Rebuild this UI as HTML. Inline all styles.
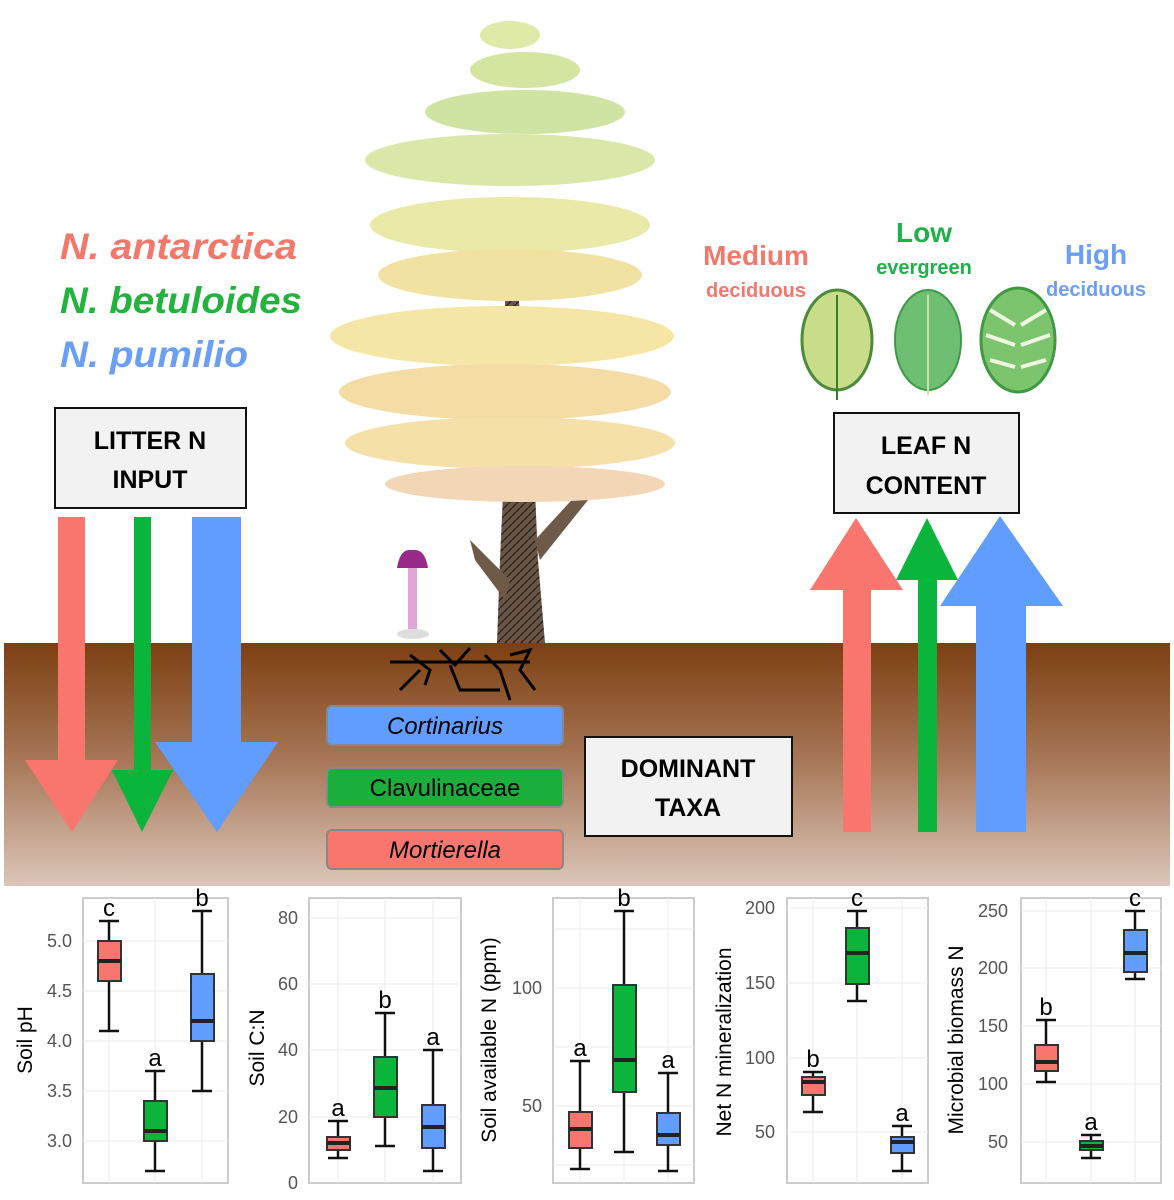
<!DOCTYPE html>
<html><head><meta charset="utf-8"><style>
html,body{margin:0;padding:0;background:#fff}
svg{display:block}
text{font-family:"Liberation Sans",sans-serif}
</style></head><body>
<svg width="1174" height="1200" viewBox="0 0 1174 1200" xmlns="http://www.w3.org/2000/svg">
<defs>
<linearGradient id="soil" x1="0" y1="0" x2="0" y2="1">
<stop offset="0" stop-color="#7d3f12"/><stop offset="0.5" stop-color="#a8795a"/><stop offset="1" stop-color="#dcc6b8"/>
</linearGradient>
<pattern id="bark" width="8" height="8" patternUnits="userSpaceOnUse"><rect width="8" height="8" fill="#6a5646"/><path d="M0,4 L4,0 M4,8 L8,4" stroke="#2e2620" stroke-width="1.5"/></pattern>
</defs>
<rect x="0" y="0" width="1174" height="1200" fill="#fff"/>
<rect x="4" y="643" width="1166" height="243" fill="url(#soil)"/>

<!-- Tree trunk -->
<polygon points="497,643 545,643 538,560 532,420 522,330 510,220 502,220 506,330 505,450 500,560" fill="url(#bark)"/>
<polygon points="505,600 475,560 470,540 510,580" fill="#6d5a48"/>
<polygon points="535,540 590,480 600,485 540,560" fill="#6d5a48"/>
<!-- foliage tiers -->
<g>
<ellipse cx="510" cy="35" rx="30" ry="14" fill="#dfe9a8"/>
<ellipse cx="525" cy="70" rx="55" ry="18" fill="#d3e5a0"/>
<ellipse cx="525" cy="112" rx="100" ry="22" fill="#cfe4a2"/>
<ellipse cx="510" cy="160" rx="145" ry="26" fill="#d9e8a8"/>
<ellipse cx="510" cy="225" rx="140" ry="28" fill="#e9eaa8"/>
<ellipse cx="510" cy="275" rx="132" ry="26" fill="#f2e2a2"/>
<ellipse cx="502" cy="336" rx="172" ry="30" fill="#f6e6a6"/>
<ellipse cx="505" cy="392" rx="166" ry="28" fill="#f4dca6"/>
<ellipse cx="510" cy="443" rx="165" ry="26" fill="#f5e0aa"/>
<ellipse cx="525" cy="484" rx="140" ry="18" fill="#f2d6b6"/>
</g>
<!-- mushroom -->
<rect x="408" y="565" width="9" height="68" fill="#e2a6d6"/>
<path d="M397,568 Q400,548 412,550 Q425,548 428,568 Z" fill="#9a2a8a"/>
<ellipse cx="413" cy="634" rx="16" ry="5" fill="#ddd"/>
<!-- roots -->
<g stroke="#000" stroke-width="3" fill="none">
<path d="M390,662 L530,662"/><path d="M410,655 L430,670 L425,685"/><path d="M440,650 L455,665 L470,648"/>
<path d="M450,665 L460,690 L500,690"/><path d="M485,655 L500,670 L510,700"/><path d="M510,655 L530,650 L520,670 L535,690"/>
<path d="M420,670 L400,690"/>
</g>

<!-- species names -->
<text x="60" y="259" font-size="37" font-weight="bold" font-style="italic" fill="#f4776c" textLength="237" lengthAdjust="spacingAndGlyphs">N. antarctica</text>
<text x="60" y="313" font-size="37" font-weight="bold" font-style="italic" fill="#22b33c" textLength="242" lengthAdjust="spacingAndGlyphs">N. betuloides</text>
<text x="60" y="367" font-size="37" font-weight="bold" font-style="italic" fill="#6b9ef5" textLength="188" lengthAdjust="spacingAndGlyphs">N. pumilio</text>

<!-- litter box -->
<rect x="55" y="408" width="191" height="100" fill="#f2f2f2" stroke="#111" stroke-width="2"/>
<text x="150" y="449" font-size="25" font-weight="bold" text-anchor="middle">LITTER N</text>
<text x="150" y="488" font-size="25" font-weight="bold" text-anchor="middle">INPUT</text>

<!-- down arrows -->
<polygon points="192,517 241,517 241,742 278,742 217,832 155,742 192,742" fill="#619cff"/>
<polygon points="58,517 85,517 85,760 118,760 72,832 25,760 58,760" fill="#f8766d"/>
<polygon points="134,517 151,517 151,770 173,770 142,832 112,770 134,770" fill="#0bb43a"/>

<!-- up arrows -->
<polygon points="843,832 871,832 871,590 903,590 856,518 810,590 843,590" fill="#f8766d"/>
<polygon points="976,832 1026,832 1026,606 1063,606 1000,516 940,606 976,606" fill="#619cff"/>
<polygon points="918,832 937,832 937,580 958,580 927,518 896,580 918,580" fill="#0bb43a"/>

<!-- leaf labels -->
<text x="756" y="265" font-size="28" font-weight="bold" text-anchor="middle" fill="#f4776c">Medium</text>
<text x="756" y="297" font-size="20" font-weight="bold" text-anchor="middle" fill="#f4776c">deciduous</text>
<text x="924" y="242" font-size="28" font-weight="bold" text-anchor="middle" fill="#1db14a">Low</text>
<text x="924" y="274" font-size="20" font-weight="bold" text-anchor="middle" fill="#1db14a">evergreen</text>
<text x="1096" y="264" font-size="28" font-weight="bold" text-anchor="middle" fill="#6b9ef5">High</text>
<text x="1096" y="296" font-size="20" font-weight="bold" text-anchor="middle" fill="#6b9ef5">deciduous</text>
<!-- leaves -->
<ellipse cx="837" cy="340" rx="35" ry="50" fill="#c9dc8a" stroke="#4d8a3a" stroke-width="3"/>
<line x1="837" y1="295" x2="837" y2="400" stroke="#3b7a2e" stroke-width="2"/>
<ellipse cx="928" cy="340" rx="33" ry="50" fill="#6fbf72" stroke="#3e9a4a" stroke-width="2"/>
<line x1="928" y1="295" x2="928" y2="395" stroke="#c9e4a0" stroke-width="2"/>
<ellipse cx="1018" cy="340" rx="37" ry="52" fill="#7cc46e" stroke="#3e9a3e" stroke-width="3"/>
<g stroke="#eef6e0" stroke-width="4"><line x1="990" y1="310" x2="1015" y2="325"/><line x1="986" y1="335" x2="1015" y2="345"/><line x1="990" y1="360" x2="1015" y2="367"/><line x1="1046" y1="310" x2="1021" y2="325"/><line x1="1050" y1="335" x2="1021" y2="345"/><line x1="1046" y1="360" x2="1021" y2="367"/></g>

<!-- leaf box -->
<rect x="834" y="413" width="185" height="100" fill="#f2f2f2" stroke="#111" stroke-width="2"/>
<text x="926" y="454" font-size="25" font-weight="bold" text-anchor="middle">LEAF N</text>
<text x="926" y="494" font-size="25" font-weight="bold" text-anchor="middle">CONTENT</text>

<!-- taxa -->
<rect x="327" y="706" width="236" height="39" rx="5" fill="#619cff" stroke="#888" stroke-width="2"/>
<text x="445" y="734" font-size="24" font-style="italic" text-anchor="middle">Cortinarius</text>
<rect x="327" y="768" width="236" height="39" rx="5" fill="#1cae3c" stroke="#888" stroke-width="2"/>
<text x="445" y="796" font-size="24" text-anchor="middle">Clavulinaceae</text>
<rect x="327" y="830" width="236" height="39" rx="5" fill="#f8766d" stroke="#888" stroke-width="2"/>
<text x="445" y="858" font-size="24" font-style="italic" text-anchor="middle">Mortierella</text>
<rect x="585" y="737" width="207" height="99" fill="#f2f2f2" stroke="#111" stroke-width="2"/>
<text x="688" y="777" font-size="25" font-weight="bold" text-anchor="middle">DOMINANT</text>
<text x="688" y="816" font-size="25" font-weight="bold" text-anchor="middle">TAXA</text>

<!-- PLOTS -->
<rect x="83" y="898" width="145" height="285" fill="#fff" stroke="#ccc" stroke-width="2"/>
<g stroke="#ebebeb" stroke-width="1"><line x1="83" y1="941" x2="228" y2="941"/><line x1="83" y1="991" x2="228" y2="991"/><line x1="83" y1="1041" x2="228" y2="1041"/><line x1="83" y1="1091" x2="228" y2="1091"/><line x1="83" y1="1141" x2="228" y2="1141"/><line x1="109" y1="898" x2="109" y2="1183"/><line x1="155" y1="898" x2="155" y2="1183"/><line x1="202" y1="898" x2="202" y2="1183"/></g>
<g font-size="18" fill="#555" text-anchor="end">
<text x="72" y="947">5.0</text><text x="72" y="997">4.5</text><text x="72" y="1047">4.0</text><text x="72" y="1097">3.5</text><text x="72" y="1147">3.0</text>
</g>
<text transform="translate(32,1040) rotate(-90)" font-size="21" text-anchor="middle">Soil pH</text>

<rect x="309" y="898" width="152" height="285" fill="#fff" stroke="#ccc" stroke-width="2"/>
<g stroke="#ebebeb" stroke-width="1"><line x1="309" y1="918" x2="461" y2="918"/><line x1="309" y1="984" x2="461" y2="984"/><line x1="309" y1="1050" x2="461" y2="1050"/><line x1="309" y1="1117" x2="461" y2="1117"/><line x1="338" y1="898" x2="338" y2="1183"/><line x1="385" y1="898" x2="385" y2="1183"/><line x1="433" y1="898" x2="433" y2="1183"/></g>
<g font-size="18" fill="#555" text-anchor="end">
<text x="298" y="924">80</text><text x="298" y="990">60</text><text x="298" y="1056">40</text><text x="298" y="1123">20</text><text x="298" y="1189">0</text>
</g>
<text transform="translate(264,1048) rotate(-90)" font-size="21" text-anchor="middle">Soil C:N</text>

<rect x="553" y="898" width="141" height="285" fill="#fff" stroke="#ccc" stroke-width="2"/>
<g stroke="#ebebeb" stroke-width="1"><line x1="553" y1="988" x2="694" y2="988"/><line x1="553" y1="1106" x2="694" y2="1106"/><line x1="553" y1="929" x2="694" y2="929"/><line x1="553" y1="1047" x2="694" y2="1047"/><line x1="553" y1="1165" x2="694" y2="1165"/><line x1="580" y1="898" x2="580" y2="1183"/><line x1="624" y1="898" x2="624" y2="1183"/><line x1="668" y1="898" x2="668" y2="1183"/></g>
<g font-size="18" fill="#555" text-anchor="end"><text x="542" y="994">100</text><text x="542" y="1112">50</text></g>
<text transform="translate(496,1040) rotate(-90)" font-size="21" text-anchor="middle">Soil available N (ppm)</text>

<rect x="787" y="898" width="141" height="285" fill="#fff" stroke="#ccc" stroke-width="2"/>
<g stroke="#ebebeb" stroke-width="1"><line x1="787" y1="908" x2="928" y2="908"/><line x1="787" y1="983" x2="928" y2="983"/><line x1="787" y1="1058" x2="928" y2="1058"/><line x1="787" y1="1132" x2="928" y2="1132"/><line x1="813" y1="898" x2="813" y2="1183"/><line x1="857" y1="898" x2="857" y2="1183"/><line x1="902" y1="898" x2="902" y2="1183"/></g>
<g font-size="18" fill="#555" text-anchor="end"><text x="775" y="914">200</text><text x="775" y="989">150</text><text x="775" y="1064">100</text><text x="775" y="1138">50</text></g>
<text transform="translate(731,1042) rotate(-90)" font-size="21" text-anchor="middle">Net N mineralization</text>

<rect x="1021" y="898" width="140" height="285" fill="#fff" stroke="#ccc" stroke-width="2"/>
<g stroke="#ebebeb" stroke-width="1"><line x1="1021" y1="911" x2="1161" y2="911"/><line x1="1021" y1="968" x2="1161" y2="968"/><line x1="1021" y1="1026" x2="1161" y2="1026"/><line x1="1021" y1="1084" x2="1161" y2="1084"/><line x1="1021" y1="1142" x2="1161" y2="1142"/><line x1="1046" y1="898" x2="1046" y2="1183"/><line x1="1091" y1="898" x2="1091" y2="1183"/><line x1="1135" y1="898" x2="1135" y2="1183"/></g>
<g font-size="18" fill="#555" text-anchor="end"><text x="1008" y="917">250</text><text x="1008" y="974">200</text><text x="1008" y="1032">150</text><text x="1008" y="1090">100</text><text x="1008" y="1148">50</text></g>
<text transform="translate(963,1040) rotate(-90)" font-size="21" text-anchor="middle">Microbial biomass N</text>

<g stroke="#111" stroke-width="2.5" fill="none">
<path d="M109,1031 V921 M99,921 H119 M99,1031 H119"/><path d="M155,1171 V1071 M145,1071 H165 M145,1171 H165"/><path d="M202,1091 V911 M192,911 H212 M192,1091 H212"/>
<path d="M338,1158 V1121 M328,1121 H348 M328,1158 H348"/><path d="M385,1146 V1013 M375,1013 H395 M375,1146 H395"/><path d="M433,1171 V1050 M423,1050 H443 M423,1171 H443"/>
<path d="M580,1169 V1061 M570,1061 H590 M570,1169 H590"/><path d="M624,1152 V911 M614,911 H634 M614,1152 H634"/><path d="M668,1171 V1073 M658,1073 H678 M658,1171 H678"/>
<path d="M813,1112 V1072 M803,1072 H823 M803,1112 H823"/><path d="M857,1001 V911 M847,911 H867 M847,1001 H867"/><path d="M902,1171 V1126 M892,1126 H912 M892,1171 H912"/>
<path d="M1046,1082 V1020 M1036,1020 H1056 M1036,1082 H1056"/><path d="M1091,1158 V1135 M1081,1135 H1101 M1081,1158 H1101"/><path d="M1135,979 V911 M1125,911 H1145 M1125,979 H1145"/>
</g>
<g stroke="#333" stroke-width="2">
<rect x="98" y="941" width="23" height="40" fill="#f8766d"/><rect x="144" y="1101" width="23" height="40" fill="#0bb43a"/><rect x="191" y="974" width="23" height="67" fill="#619cff"/>
<rect x="327" y="1137" width="23" height="13" fill="#f8766d"/><rect x="374" y="1057" width="23" height="60" fill="#0bb43a"/><rect x="422" y="1105" width="23" height="43" fill="#619cff"/>
<rect x="569" y="1112" width="23" height="36" fill="#f8766d"/><rect x="613" y="985" width="23" height="107" fill="#0bb43a"/><rect x="657" y="1113" width="23" height="32" fill="#619cff"/>
<rect x="802" y="1077" width="23" height="18" fill="#f8766d"/><rect x="846" y="928" width="23" height="56" fill="#0bb43a"/><rect x="891" y="1137" width="23" height="16" fill="#619cff"/>
<rect x="1035" y="1045" width="23" height="26" fill="#f8766d"/><rect x="1080" y="1141" width="23" height="9" fill="#0bb43a"/><rect x="1124" y="930" width="23" height="42" fill="#619cff"/>
</g>
<g stroke="#222" stroke-width="4">
<line x1="98" y1="961" x2="121" y2="961"/><line x1="144" y1="1131" x2="167" y2="1131"/><line x1="191" y1="1021" x2="214" y2="1021"/>
<line x1="327" y1="1143" x2="350" y2="1143"/><line x1="374" y1="1088" x2="397" y2="1088"/><line x1="422" y1="1127" x2="445" y2="1127"/>
<line x1="569" y1="1129" x2="592" y2="1129"/><line x1="613" y1="1060" x2="636" y2="1060"/><line x1="657" y1="1135" x2="680" y2="1135"/>
<line x1="802" y1="1082" x2="825" y2="1082"/><line x1="846" y1="953" x2="869" y2="953"/><line x1="891" y1="1142" x2="914" y2="1142"/>
<line x1="1035" y1="1062" x2="1058" y2="1062"/><line x1="1080" y1="1146" x2="1103" y2="1146"/><line x1="1124" y1="953" x2="1147" y2="953"/>
</g>
<g font-size="24" text-anchor="middle" fill="#000">
<text x="109" y="916">c</text><text x="155" y="1066">a</text><text x="202" y="906">b</text>
<text x="338" y="1116">a</text><text x="385" y="1008">b</text><text x="433" y="1045">a</text>
<text x="580" y="1056">a</text><text x="624" y="906">b</text><text x="668" y="1068">a</text>
<text x="813" y="1067">b</text><text x="857" y="906">c</text><text x="902" y="1121">a</text>
<text x="1046" y="1015">b</text><text x="1091" y="1130">a</text><text x="1135" y="906">c</text>
</g>
</svg>
</body></html>
